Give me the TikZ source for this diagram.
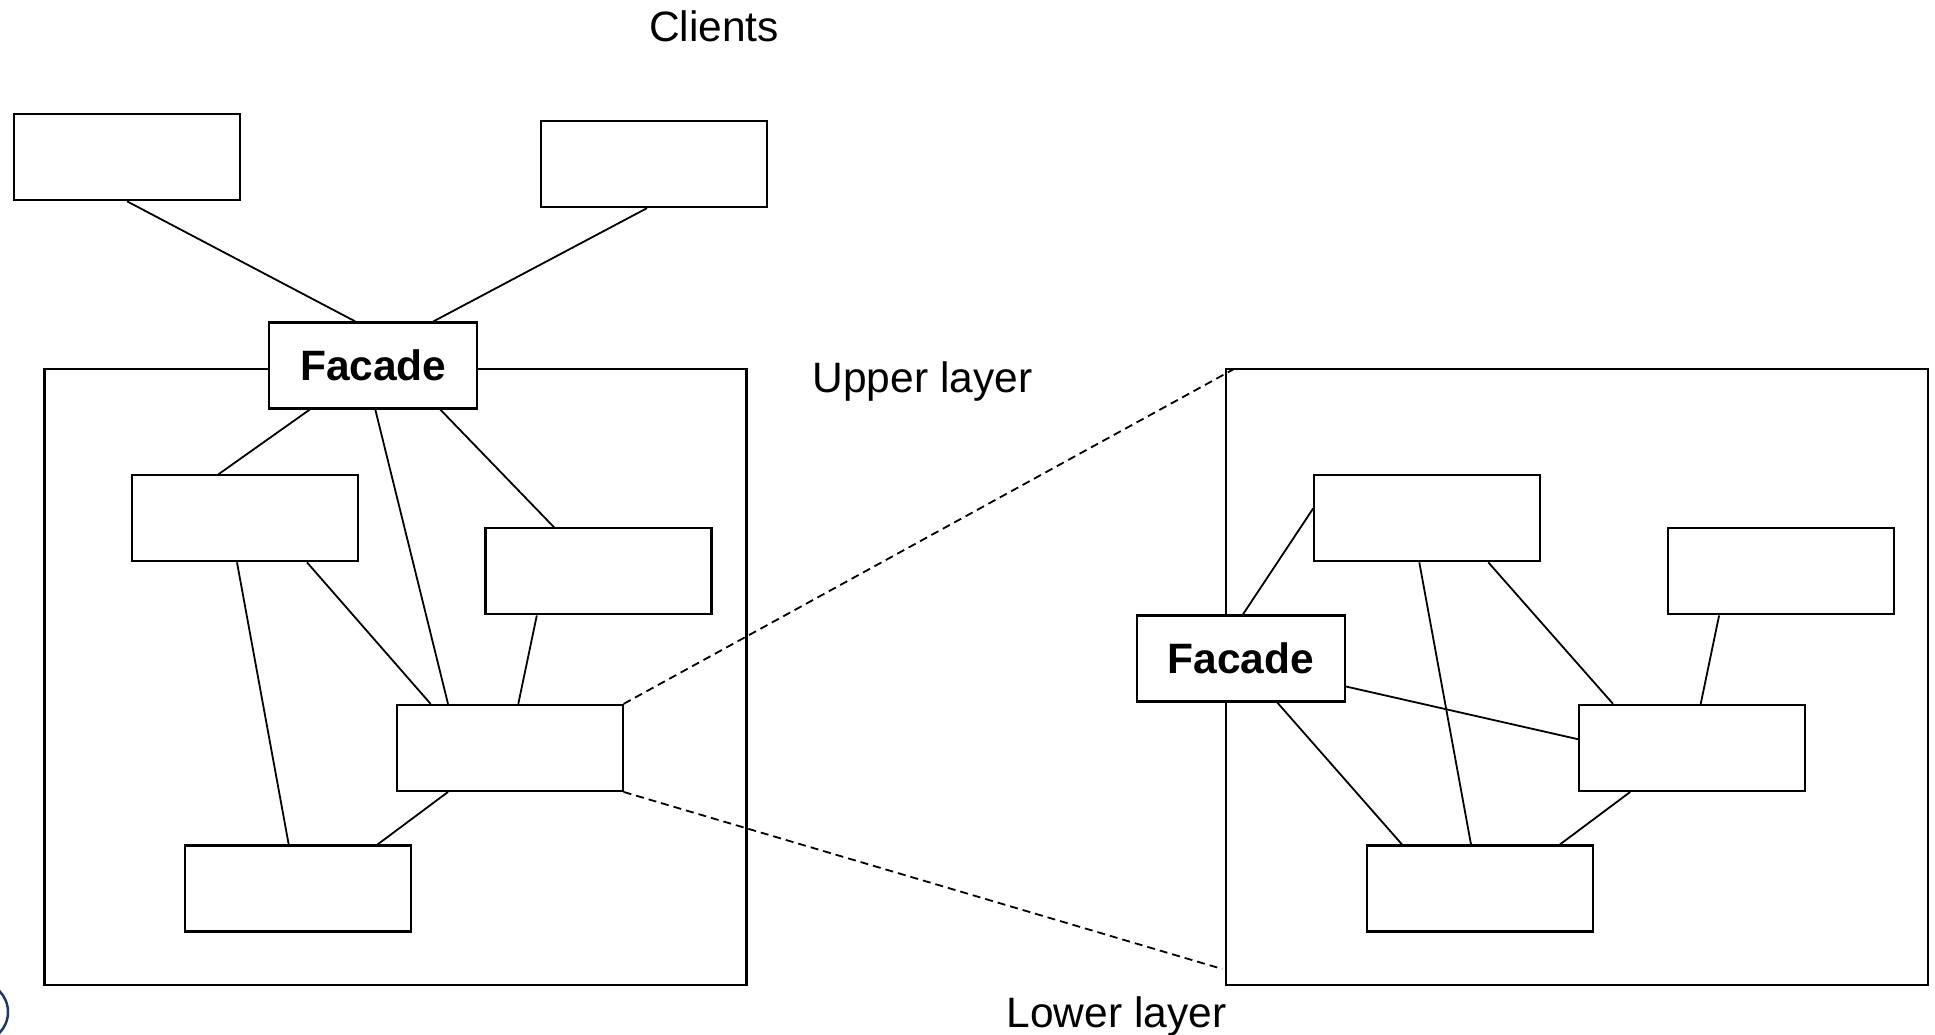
\documentclass[tikz,border=0pt]{standalone}
\usepackage{fontspec}
\setmainfont{Liberation Sans}
\usepackage{tikz}
\definecolor{logoblue}{HTML}{1F3864}

\begin{document}
\begin{tikzpicture}[x=1pt, y=-1pt,
    box/.style={draw, fill=white, line width=2.1pt, minimum width=226pt, minimum height=86pt, inner sep=0pt},
    facadebox/.style={box, minimum width=208pt, font=\fontsize{42.5}{50}\selectfont\bfseries},
    layerbox/.style={draw, line width=2.1pt, minimum width=702pt, minimum height=616pt, inner sep=0pt},
    lbl/.style={anchor=base, font=\fontsize{42.5}{50}\selectfont},
    link/.style={line width=1.8pt},
    zoomline/.style={line width=1.8pt, dash pattern=on 8pt off 5pt}]
                    \useasboundingbox (0,0) rectangle (1935,1035);
                    % Schichten (upper / lower)
                    \node[layerbox] (upper) at (395.5,676.9) {};
                    \node[layerbox] (lower) at (1577.2,676.9) {};
                    % Clients
                    \foreach \n/\x/\y in {cl1/127.1/157.3, cl2/654/164.1} {
                        \node[box] (\n) at (\x,\y) {};
                    }
                    % Klassen der beiden Schichten
                    \foreach \n/\x/\y in {ua/245/518.3, ub/598.5/571.4, uc/509.6/747.9, ud/298/888.5,
                                          la/1427.3/518.3, lb/1780.8/571.4, lc/1692/747.9, ld/1480.3/888.5} {
                        \node[box] (\n) at (\x,\y) {};
                    }
                    % Facaden
                    \node[facadebox] (ufac) at (373.3,365.5) {Facade};
                    \node[facadebox] (lfac) at (1240.9,658.5) {Facade};
                    % Beschriftungen
                    \node[lbl] (clients) at (714,42) {Clients};
                    \node[lbl] (upperlbl) at (922.5,392) {Upper layer};
                    \node[lbl] (lowerlbl) at (1116.5,1027) {Lower layer};
                    % Verbindungen oben
                    \draw[link] (cl1.south) -- ([xshift=-18pt]ufac.north);
                    \draw[link] ([xshift=-7pt]cl2.south) -- ([xshift=60pt]ufac.north);
                    \draw[link] ([xshift=-63.5pt]ufac.south) -- ([xshift=-26.5pt]ua.north);
                    \draw[link] ([xshift=2pt]ufac.south) -- ([xshift=-61.6pt]uc.north);
                    \draw[link] ([xshift=67pt]ufac.south) -- ([xshift=-44.4pt]ub.north);
                    \draw[link] ([xshift=-8pt]ua.south) -- ([xshift=-9.3pt]ud.north);
                    \draw[link] ([xshift=62pt]ua.south) -- ([xshift=-79pt]uc.north);
                    \draw[link] ([xshift=-61.7pt]ub.south) -- ([xshift=8.7pt]uc.north);
                    \draw[link] ([xshift=-61.6pt]uc.south) -- ([xshift=79.6pt]ud.north);
                    % Zoom (gestrichelt)
                    \draw[zoomline] (uc.north east) -- ([xshift=11pt]lower.north west);
                    \draw[zoomline] (uc.south east) -- ([xshift=-3pt,yshift=17pt]lower.south west);
                    % Verbindungen unten
                    \draw[link] ([yshift=10pt]la.west) -- ([xshift=2pt]lfac.north);
                    \draw[link] ([xshift=-8pt]la.south) -- ([xshift=-9.3pt]ld.north);
                    \draw[link] ([xshift=61pt]la.south) -- ([xshift=-79pt]lc.north);
                    \draw[link] ([xshift=-61.7pt]lb.south) -- ([xshift=8.7pt]lc.north);
                    \draw[link] ([yshift=-28pt]lfac.east) -- ([yshift=8.7pt]lc.west);
                    \draw[link] ([xshift=36.4pt]lfac.south) -- ([xshift=-78.3pt]ld.north);
                    \draw[link] ([xshift=-61.8pt]lc.south) -- ([xshift=79.6pt]ld.north);
                    % Logo-Rest unten links
                    \draw[logoblue, line width=2.5pt] (-22,1012) circle (30pt);
\end{tikzpicture}
\end{document}
